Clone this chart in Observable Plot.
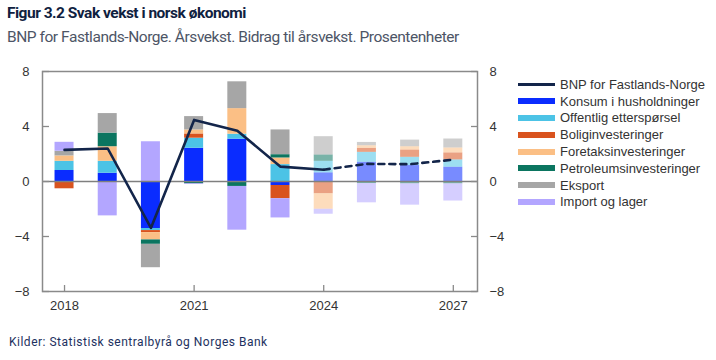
<!DOCTYPE html>
<html>
<head>
<meta charset="utf-8">
<script src="https://cdn.jsdelivr.net/npm/d3@7"></script>
<script src="https://cdn.jsdelivr.net/npm/@observablehq/plot@0.6"></script>
<style>
  html, body { margin: 0; padding: 0; background: #fff; }
  body { width: 716px; height: 360px; position: relative; overflow: hidden; }
  #title { position: absolute; left: 7px; top: 4px; font: 700 15.5px Roboto, sans-serif; letter-spacing: -0.5px; color: #0f2140; white-space: nowrap; }
  #subtitle { position: absolute; left: 7px; top: 28px; font: 400 15.5px Roboto, sans-serif; letter-spacing: -0.45px; color: #4d5566; white-space: nowrap; }
  #chart { position: absolute; left: 0; top: 56px; }
  #legend { position: absolute; left: 518px; top: 76px; font: 13px "Liberation Sans", Arial, sans-serif; color: #333; }
  #legend .row { height: 16.8px; display: flex; align-items: center; white-space: nowrap; }
  #legend .sw { width: 37px; height: 6px; margin-right: 5px; }
  #legend .ln { width: 37px; height: 2.5px; margin-right: 5px; }
  #caption { position: absolute; left: 9px; top: 335px; font: 400 12px Roboto, sans-serif; letter-spacing: 0.5px; color: #1d3160; white-space: nowrap; }
</style>
</head>
<body>
<div id="title">Figur 3.2 Svak vekst i norsk økonomi</div>
<div id="subtitle">BNP for Fastlands-Norge. Årsvekst. Bidrag til årsvekst. Prosentenheter</div>
<div id="chart"></div>
<div id="legend"></div>
<div id="caption">Kilder: Statistisk sentralbyrå og Norges Bank</div>
<script>
// ---- data ----
const years = [2018, 2019, 2020, 2021, 2022, 2023, 2024, 2025, 2026, 2027];
const firstProjectionYear = 2024;
const seriesNames = ["Konsum i husholdninger", "Offentlig etterspørsel", "Boliginvesteringer", "Foretaksinvesteringer", "Petroleumsinvesteringer", "Eksport", "Import og lager"];
const lineName = "BNP for Fastlands-Norge";
const konsum     = [0.80, 0.60, -3.42, 2.42, 3.08, -0.29, 0.63, 1.40, 1.16, 1.04];
const offentlig  = [0.67, 0.87, -0.15, 0.73, 0.36, 1.23, 0.84, 0.72, 0.60, 0.53];
const bolig      = [-0.53, 0.00, -0.15, 0.31, 0.00, -0.96, -0.89, 0.29, 0.53, 0.51];
const foretak    = [0.39, 1.06, -0.53, 0.29, 1.86, 0.48, -1.13, 0.19, 0.24, 0.36];
const petroleum  = [0.00, 0.99, -0.32, -0.17, -0.36, 0.24, 0.46, -0.15, -0.17, -0.17];
const eksport    = [0.34, 1.42, -1.70, 0.97, 1.95, 1.80, 1.33, 0.24, 0.48, 0.65];
const importLager= [0.65, -2.50, 2.89, -0.05, -3.18, -1.40, -0.36, -1.40, -1.55, -1.25];
const bnp        = [2.3, 2.4, -3.38, 4.48, 3.69, 1.08, 0.86, 1.28, 1.26, 1.59];
const colors = ["#0a2cff", "#4cc3e6", "#d9531e", "#fbbf85", "#0b7560", "#a6a6a6", "#b3a6ff"];
const lineColor = "#13254a";
const yTicks = [-8, -4, 0, 4, 8];
const xTicks = [2018, 2021, 2024, 2027];

// ---- build tables ----
const seriesValues = [konsum, offentlig, bolig, foretak, petroleum, eksport, importLager];
const rows = [];
years.forEach((yr, i) => {
  seriesNames.forEach((s, j) => {
    rows.push({year: yr, series: s, value: seriesValues[j][i], proj: yr >= firstProjectionYear});
  });
});
const line = years.map((yr, i) => ({year: yr, value: bnp[i]}));
const hist = line.filter(d => d.year <= firstProjectionYear);
const proj = line.filter(d => d.year >= firstProjectionYear);

const fmt = d => d < 0 ? "\u2212" + Math.abs(d) : String(d);
const axisStyle = {fontSize: 13, fill: "#333"};

const chart = Plot.plot({
  width: 716,
  height: 265,
  marginTop: 15,
  marginBottom: 30,
  marginLeft: 42,
  marginRight: 239,
  style: {fontFamily: "'Liberation Sans', Arial, sans-serif", fontSize: "13px", color: "#333", background: "transparent"},
  x: {domain: [2017.49, 2027.56]},
  y: {domain: [-8, 8]},
  color: {domain: seriesNames, range: colors},
  marks: [
    Plot.rectY(rows, {
      x1: d => d.year - 0.5, x2: d => d.year + 0.5, y: "value",
      fill: "series", fillOpacity: d => d.proj ? 0.55 : 1,
      insetLeft: 12.1, insetRight: 12.1
    }),
    Plot.ruleY([0], {stroke: "#7f7f7f", strokeWidth: 1.6}),
    Plot.line(hist, {x: "year", y: "value", stroke: lineColor, strokeWidth: 2.6}),
    Plot.line(proj, {x: "year", y: "value", stroke: lineColor, strokeWidth: 2.6, strokeDasharray: "6,5"}),
    Plot.frame({stroke: "#8a8a8a", strokeWidth: 1.5}),
    Plot.ruleY(yTicks, {stroke: "#8a8a8a", strokeWidth: 1.3, insetRight: 428}),
    Plot.ruleY(yTicks, {stroke: "#8a8a8a", strokeWidth: 1.3, insetLeft: 429}),
    Plot.ruleX(xTicks, {stroke: "#8a8a8a", strokeWidth: 1.3, insetTop: 214}),
    Plot.axisY({anchor: "left", ticks: yTicks, tickSize: 0, tickPadding: 13, tickFormat: fmt, label: null, ...axisStyle}),
    Plot.axisY({anchor: "right", ticks: yTicks, tickSize: 0, tickPadding: 12, tickFormat: fmt, label: null, ...axisStyle}),
    Plot.axisX({anchor: "bottom", ticks: xTicks, tickSize: 0, tickPadding: 9, tickFormat: d => String(d), label: null, ...axisStyle})
  ]
});
document.getElementById("chart").appendChild(chart);

// ---- legend ----
const legend = document.getElementById("legend");
const addRow = (name, color, isLine) => {
  const r = document.createElement("div");
  r.className = "row";
  const sw = document.createElement("div");
  sw.className = isLine ? "ln" : "sw";
  sw.style.background = color;
  const t = document.createElement("span");
  t.textContent = name;
  r.appendChild(sw); r.appendChild(t);
  legend.appendChild(r);
};
addRow(lineName, lineColor, true);
seriesNames.forEach((s, i) => addRow(s, colors[i], false));
</script>
</body>
</html>
